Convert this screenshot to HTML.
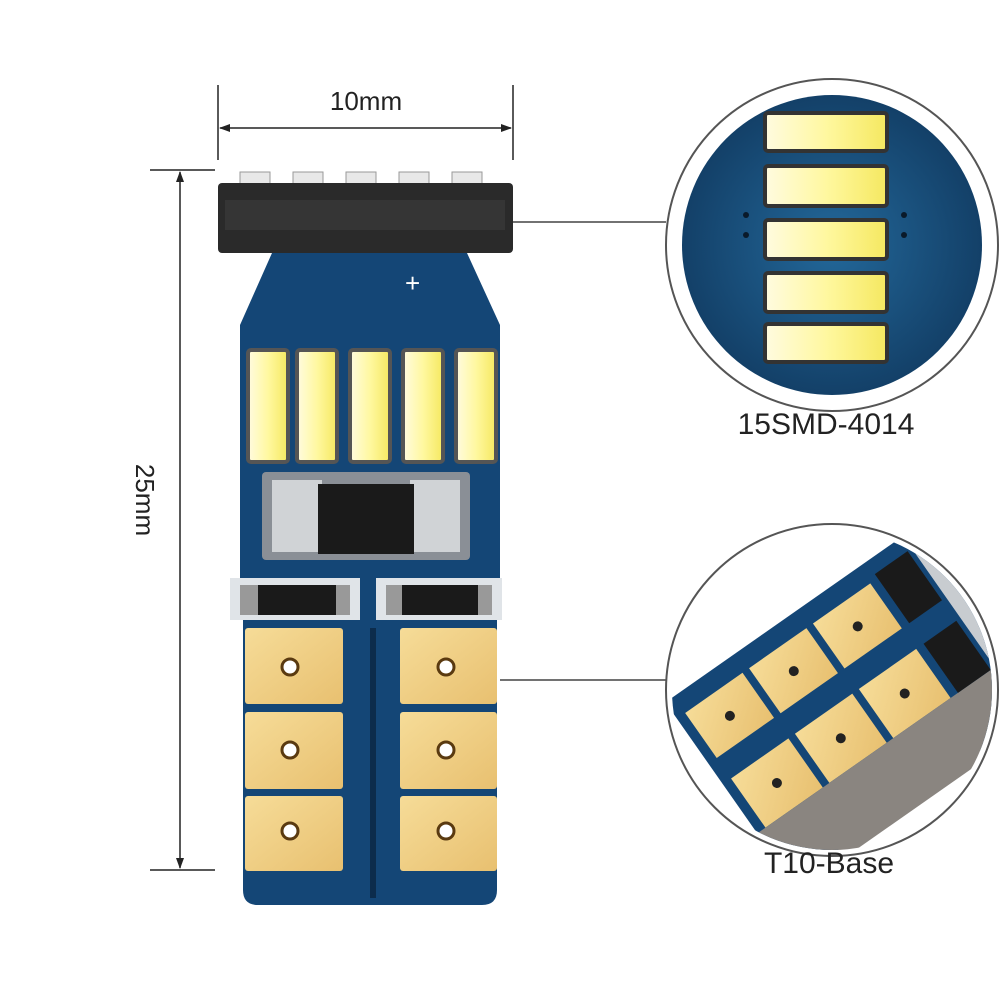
<!DOCTYPE html>
<html><head><meta charset="utf-8"><style>
html,body{margin:0;padding:0;background:#fff;}
svg{display:block;}
text{font-family:"Liberation Sans",sans-serif;fill:#222;}
</style></head><body>
<svg width="1000" height="1000" viewBox="0 0 1000 1000" xmlns="http://www.w3.org/2000/svg">
<defs>
<linearGradient id="led" x1="0" x2="1" y1="0" y2="0">
<stop offset="0" stop-color="#fffbe0"/><stop offset="0.5" stop-color="#fff8a0"/><stop offset="1" stop-color="#f5e860"/></linearGradient>
<linearGradient id="gold" x1="0" x2="1" y1="0" y2="1">
<stop offset="0" stop-color="#f6dc98"/><stop offset="1" stop-color="#e8c070"/></linearGradient>
<radialGradient id="blue1" cx="0.5" cy="0.5" r="0.5">
<stop offset="0" stop-color="#23689a"/><stop offset="1" stop-color="#134068"/></radialGradient>
<clipPath id="c2"><circle cx="832" cy="690" r="160"/></clipPath>
</defs>

<g stroke="#222" stroke-width="1.5" fill="none">
<line x1="218" y1="85" x2="218" y2="160"/>
<line x1="513" y1="85" x2="513" y2="160"/>
<line x1="220" y1="128" x2="511" y2="128"/>
<line x1="150" y1="170" x2="215" y2="170"/>
<line x1="150" y1="870" x2="215" y2="870"/>
<line x1="180" y1="172" x2="180" y2="868"/>
</g>
<g fill="#222">
<polygon points="219,128 230,124 230,132"/>
<polygon points="512,128 501,124 501,132"/>
<polygon points="180,171 176,182 184,182"/>
<polygon points="180,869 176,858 184,858"/>
</g>
<text x="366" y="110" font-size="26" text-anchor="middle">10mm</text>
<text transform="translate(136,500) rotate(90)" font-size="26" text-anchor="middle">25mm</text>

<g fill="#e8e8e8" stroke="#999">
<rect x="240" y="172" width="30" height="16"/><rect x="293" y="172" width="30" height="16"/>
<rect x="346" y="172" width="30" height="16"/><rect x="399" y="172" width="30" height="16"/>
<rect x="452" y="172" width="30" height="16"/>
</g>
<rect x="218" y="183" width="295" height="70" rx="4" fill="#2a2a2a"/>
<rect x="225" y="200" width="280" height="30" fill="#3a3a3a" opacity="0.7"/>
<path d="M340,255 L400,255 L396,295 L344,295 Z" fill="#b8b8b8"/>
<rect x="352" y="262" width="36" height="22" fill="#e6e6e6"/>

<path d="M272,253 L467,253 L500,325 L500,620 L497,620 L497,890 Q497,905 482,905 L258,905 Q243,905 243,890 L243,620 L240,620 L240,325 Z" fill="#144676"/>
<text x="405" y="292" font-size="26" style="fill:#fff">+</text>
<g stroke="#555" stroke-width="4" fill="url(#led)">
<rect x="248" y="350" width="40" height="112" rx="3"/>
<rect x="297" y="350" width="40" height="112" rx="3"/>
<rect x="350" y="350" width="40" height="112" rx="3"/>
<rect x="403" y="350" width="40" height="112" rx="3"/>
<rect x="456" y="350" width="40" height="112" rx="3"/>
</g>
<rect x="262" y="472" width="208" height="88" rx="4" fill="#8a8f96"/>
<rect x="272" y="480" width="50" height="72" fill="#d0d3d6"/>
<rect x="410" y="480" width="50" height="72" fill="#d0d3d6"/>
<rect x="318" y="484" width="96" height="70" fill="#1a1a1a"/>
<rect x="230" y="578" width="130" height="42" fill="#e0e4e8"/>
<rect x="240" y="585" width="110" height="30" fill="#999"/>
<rect x="258" y="585" width="78" height="30" fill="#1a1a1a"/>
<rect x="376" y="578" width="126" height="42" fill="#e0e4e8"/>
<rect x="386" y="585" width="106" height="30" fill="#999"/>
<rect x="402" y="585" width="76" height="30" fill="#1a1a1a"/>
<g fill="url(#gold)">
<rect x="245" y="628" width="98" height="76" rx="3"/>
<rect x="245" y="712" width="98" height="77" rx="3"/>
<rect x="245" y="796" width="98" height="75" rx="3"/>
<rect x="400" y="628" width="97" height="76" rx="3"/>
<rect x="400" y="712" width="97" height="77" rx="3"/>
<rect x="400" y="796" width="97" height="75" rx="3"/>
</g>
<rect x="370" y="628" width="6" height="270" fill="#0c2c4c"/>
<g fill="#fff" stroke="#5a3a10" stroke-width="3">
<circle cx="290" cy="667" r="8"/><circle cx="290" cy="750" r="8"/><circle cx="290" cy="831" r="8"/>
<circle cx="446" cy="667" r="8"/><circle cx="446" cy="750" r="8"/><circle cx="446" cy="831" r="8"/>
</g>

<line x1="513" y1="222" x2="666" y2="222" stroke="#444" stroke-width="1.5"/>
<line x1="500" y1="680" x2="666" y2="680" stroke="#444" stroke-width="1.5"/>

<circle cx="832" cy="245" r="166" fill="#fff" stroke="#555" stroke-width="2"/>
<circle cx="832" cy="245" r="150" fill="url(#blue1)"/>
<g stroke="#333" stroke-width="4" fill="url(#led)">
<rect x="765" y="113" width="122" height="38" rx="3"/>
<rect x="765" y="166" width="122" height="40" rx="3"/>
<rect x="765" y="220" width="122" height="39" rx="3"/>
<rect x="765" y="273" width="122" height="39" rx="3"/>
<rect x="765" y="324" width="122" height="38" rx="3"/>
</g>
<g fill="#0a1a2a"><circle cx="746" cy="215" r="3"/><circle cx="746" cy="235" r="3"/><circle cx="904" cy="215" r="3"/><circle cx="904" cy="235" r="3"/></g>
<text x="826" y="434" font-size="30" text-anchor="middle">15SMD-4014</text>

<circle cx="832" cy="690" r="166" fill="#fff" stroke="#555" stroke-width="2"/>
<g clip-path="url(#c2)">
<g transform="rotate(-35 840 690)">
<rect x="690" y="600" width="330" height="220" fill="#144676"/>
<rect x="700" y="620" width="70" height="55" fill="url(#gold)"/>
<rect x="778" y="620" width="70" height="55" fill="url(#gold)"/>
<rect x="856" y="620" width="70" height="55" fill="url(#gold)"/>
<rect x="700" y="700" width="70" height="60" fill="url(#gold)"/>
<rect x="778" y="700" width="70" height="60" fill="url(#gold)"/>
<rect x="856" y="700" width="70" height="60" fill="url(#gold)"/>
<rect x="690" y="760" width="330" height="70" fill="#8a8580"/>
<rect x="935" y="615" width="40" height="60" fill="#1a1a1a"/>
<rect x="935" y="700" width="40" height="60" fill="#1a1a1a"/>
<rect x="980" y="600" width="60" height="170" fill="#c8ccd0"/>
<g fill="#222"><circle cx="735" cy="648" r="5"/><circle cx="813" cy="648" r="5"/><circle cx="891" cy="648" r="5"/>
<circle cx="735" cy="730" r="5"/><circle cx="813" cy="730" r="5"/><circle cx="891" cy="730" r="5"/></g>
</g>
</g>
<text x="829" y="873" font-size="30" text-anchor="middle">T10-Base</text>
</svg>
</body></html>
